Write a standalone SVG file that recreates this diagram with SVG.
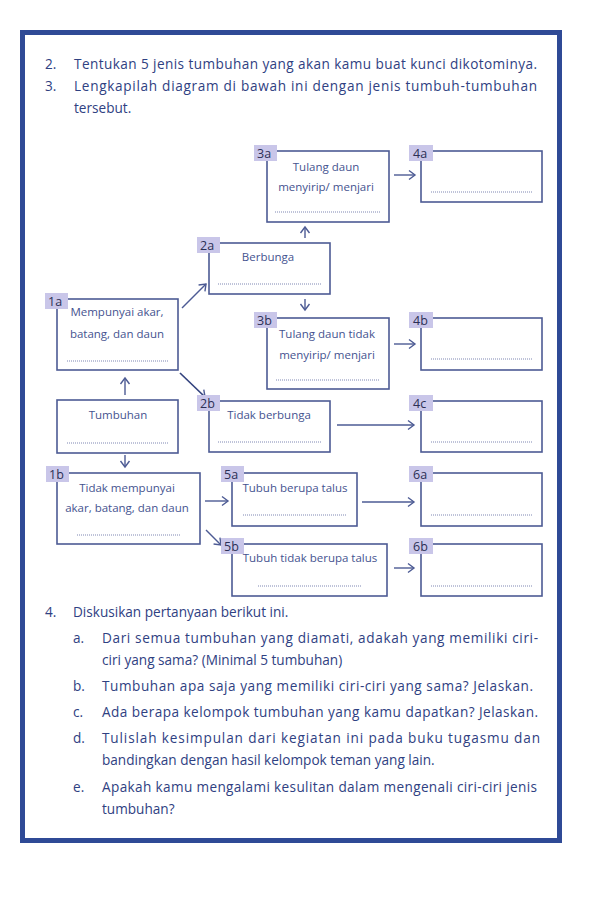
<svg xmlns="http://www.w3.org/2000/svg" width="593" height="907" viewBox="0 0 593 907">
<style>
.main{font-family:"Open Sans","Noto Sans","Liberation Sans",sans-serif;font-size:13.6px;fill:#2f4182}
.bt{font-family:"Open Sans","Noto Sans","Liberation Sans",sans-serif;font-size:11.5px;fill:#45538f}
.tg{font-family:"Open Sans","Noto Sans","Liberation Sans",sans-serif;font-size:12.5px;fill:#2c2f55}
.box{fill:#fff;stroke:#4d5b94;stroke-width:1.6}
.tag{fill:#c9c6e9;stroke:none}
.dot{stroke:#7f87b3;stroke-width:1;stroke-dasharray:1 1;fill:none}
.ar{stroke:#4d5b94;stroke-width:1.4;fill:none}
</style>
<defs>
<marker id="ah" markerUnits="userSpaceOnUse" markerWidth="14" markerHeight="14" refX="0" refY="0" viewBox="-8 -7 10 14" orient="auto" overflow="visible">
<path d="M-6,-4.5 L0,0 L-6,4.5" fill="none" stroke="#4d5b94" stroke-width="1.4"/>
</marker>
</defs>
<rect width="593" height="907" fill="#fff"/>
<rect x="22.5" y="32.5" width="537" height="808" fill="none" stroke="#2f4a96" stroke-width="5"/>

<g id="intro">
<text class="main" x="45" y="69">2.</text>
<text class="main" x="74" y="69" textLength="463">Tentukan 5 jenis tumbuhan yang akan kamu buat kunci dikotominya.</text>
<text class="main" x="45" y="91">3.</text>
<text class="main" x="74" y="91" textLength="463">Lengkapilah diagram di bawah ini dengan jenis tumbuh-tumbuhan</text>
<text class="main" x="74" y="113">tersebut.</text>
</g>

<g id="connectors">
<line class="ar" x1="394" y1="175" x2="415" y2="175" marker-end="url(#ah)"/>
<line class="ar" x1="305" y1="238" x2="305" y2="227" marker-end="url(#ah)"/>
<line class="ar" x1="182" y1="308" x2="206" y2="284" marker-end="url(#ah)"/>
<line class="ar" x1="305" y1="299" x2="305" y2="310" marker-end="url(#ah)"/>
<line class="ar" x1="394" y1="344" x2="415" y2="344" marker-end="url(#ah)"/>
<line class="ar" x1="180" y1="373" x2="205" y2="397" marker-end="url(#ah)" style="stroke:#34437e;stroke-width:1.7"/>
<line class="ar" x1="125" y1="395" x2="125" y2="378" marker-end="url(#ah)"/>
<line class="ar" x1="337" y1="425" x2="414" y2="425" marker-end="url(#ah)"/>
<line class="ar" x1="125" y1="455" x2="125" y2="467" marker-end="url(#ah)"/>
<line class="ar" x1="205" y1="501" x2="228" y2="501" marker-end="url(#ah)"/>
<line class="ar" x1="362" y1="502" x2="414" y2="502" marker-end="url(#ah)"/>
<line class="ar" x1="206" y1="530" x2="221" y2="545" marker-end="url(#ah)"/>
<line class="ar" x1="394" y1="568" x2="414" y2="568" marker-end="url(#ah)"/>
</g>

<g id="n3a">
<rect class="box" x="267" y="151" width="122" height="71"/>
<rect class="tag" x="254" y="145" width="23" height="16"/>
<text class="tg" x="257" y="158">3a</text>
<text class="bt" x="326" y="171" text-anchor="middle">Tulang daun</text>
<text class="bt" x="326" y="191" text-anchor="middle">menyirip/ menjari</text>
<line class="dot" x1="275" y1="212" x2="380" y2="212"/>
</g>
<g id="n4a">
<rect class="box" x="421" y="151" width="121" height="51"/>
<rect class="tag" x="409" y="145" width="24" height="16"/>
<text class="tg" x="413" y="158">4a</text>
<line class="dot" x1="431" y1="192" x2="533" y2="192"/>
</g>
<g id="n2a">
<rect class="box" x="209" y="243" width="121" height="51"/>
<rect class="tag" x="197" y="237" width="23" height="16"/>
<text class="tg" x="200" y="250">2a</text>
<text class="bt" x="268" y="261" text-anchor="middle">Berbunga</text>
<line class="dot" x1="218" y1="284" x2="321" y2="284"/>
</g>
<g id="n1a">
<rect class="box" x="57" y="299" width="121" height="71"/>
<rect class="tag" x="45" y="293" width="23" height="16"/>
<text class="tg" x="48" y="306">1a</text>
<text class="bt" x="117" y="316" text-anchor="middle">Mempunyai akar,</text>
<text class="bt" x="117" y="338" text-anchor="middle">batang, dan daun</text>
<line class="dot" x1="67" y1="361" x2="169" y2="361"/>
</g>
<g id="n3b">
<rect class="box" x="267" y="318" width="122" height="71"/>
<rect class="tag" x="254" y="312" width="23" height="16"/>
<text class="tg" x="257" y="325">3b</text>
<text class="bt" x="327" y="338" text-anchor="middle">Tulang daun tidak</text>
<text class="bt" x="327" y="359" text-anchor="middle">menyirip/ menjari</text>
<line class="dot" x1="276" y1="380" x2="379" y2="380"/>
</g>
<g id="n4b">
<rect class="box" x="421" y="318" width="121" height="52"/>
<rect class="tag" x="409" y="312" width="24" height="16"/>
<text class="tg" x="413" y="325">4b</text>
<line class="dot" x1="431" y1="359" x2="533" y2="359"/>
</g>
<g id="nTumbuhan">
<rect class="box" x="57" y="400" width="121" height="53"/>
<text class="bt" x="118" y="419" text-anchor="middle">Tumbuhan</text>
<line class="dot" x1="67" y1="443" x2="169" y2="443"/>
</g>
<g id="n2b">
<rect class="box" x="209" y="401" width="121" height="51"/>
<rect class="tag" x="197" y="395" width="23" height="16"/>
<text class="tg" x="200" y="408">2b</text>
<text class="bt" x="269" y="419" text-anchor="middle">Tidak berbunga</text>
<line class="dot" x1="218" y1="442" x2="321" y2="442"/>
</g>
<g id="n4c">
<rect class="box" x="421" y="401" width="121" height="51"/>
<rect class="tag" x="409" y="395" width="24" height="16"/>
<text class="tg" x="413" y="408">4c</text>
<line class="dot" x1="431" y1="442" x2="533" y2="442"/>
</g>
<g id="n1b">
<rect class="box" x="57" y="473" width="143" height="71"/>
<rect class="tag" x="46" y="466" width="23" height="16"/>
<text class="tg" x="49" y="479">1b</text>
<text class="bt" x="127" y="492" text-anchor="middle">Tidak mempunyai</text>
<text class="bt" x="127" y="512" text-anchor="middle">akar, batang, dan daun</text>
<line class="dot" x1="77" y1="535" x2="180" y2="535"/>
</g>
<g id="n5a">
<rect class="box" x="232" y="473" width="125" height="53"/>
<rect class="tag" x="221" y="466" width="23" height="16"/>
<text class="tg" x="224" y="479">5a</text>
<text class="bt" x="295" y="492" text-anchor="middle">Tubuh berupa talus</text>
<line class="dot" x1="243" y1="515" x2="346" y2="515"/>
</g>
<g id="n6a">
<rect class="box" x="421" y="473" width="121" height="53"/>
<rect class="tag" x="409" y="466" width="24" height="16"/>
<text class="tg" x="413" y="479">6a</text>
<line class="dot" x1="431" y1="515" x2="533" y2="515"/>
</g>
<g id="n5b">
<rect class="box" x="232" y="544" width="155" height="52"/>
<rect class="tag" x="221" y="538" width="23" height="16"/>
<text class="tg" x="224" y="551">5b</text>
<text class="bt" x="310" y="562" text-anchor="middle">Tubuh tidak berupa talus</text>
<line class="dot" x1="258" y1="586" x2="361" y2="586"/>
</g>
<g id="n6b">
<rect class="box" x="421" y="544" width="121" height="52"/>
<rect class="tag" x="409" y="538" width="24" height="16"/>
<text class="tg" x="413" y="551">6b</text>
<line class="dot" x1="431" y1="586" x2="533" y2="586"/>
</g>

<g id="questions">
<text class="main" x="45" y="617">4.</text>
<text class="main" x="73" y="617">Diskusikan pertanyaan berikut ini.</text>
<text class="main" x="73" y="643">a.</text>
<text class="main" x="102" y="643" textLength="436">Dari semua tumbuhan yang diamati, adakah yang memiliki ciri-</text>
<text class="main" x="102" y="665">ciri yang sama? (Minimal 5 tumbuhan)</text>
<text class="main" x="73" y="691">b.</text>
<text class="main" x="102" y="691" textLength="431">Tumbuhan apa saja yang memiliki ciri-ciri yang sama? Jelaskan.</text>
<text class="main" x="73" y="717">c.</text>
<text class="main" x="102" y="717" textLength="436">Ada berapa kelompok tumbuhan yang kamu dapatkan? Jelaskan.</text>
<text class="main" x="73" y="743">d.</text>
<text class="main" x="102" y="743" textLength="438">Tulislah kesimpulan dari kegiatan ini pada buku tugasmu dan</text>
<text class="main" x="102" y="765">bandingkan dengan hasil kelompok teman yang lain.</text>
<text class="main" x="73" y="792">e.</text>
<text class="main" x="102" y="792" textLength="435">Apakah kamu mengalami kesulitan dalam mengenali ciri-ciri jenis</text>
<text class="main" x="102" y="814">tumbuhan?</text>
</g>
</svg>
